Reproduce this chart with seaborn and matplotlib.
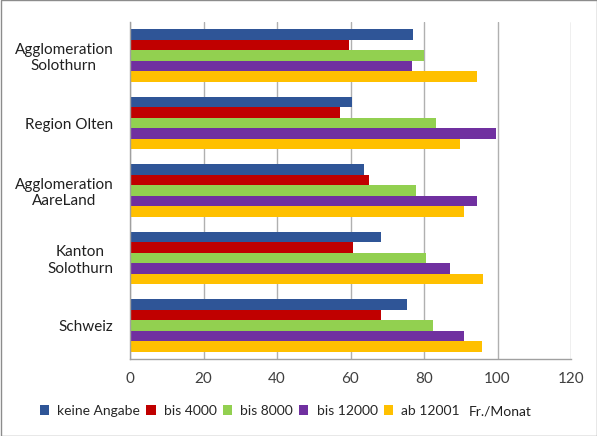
import matplotlib
matplotlib.use("Agg")
import matplotlib.pyplot as plt
import seaborn as sns
import pandas as pd
from matplotlib.patches import Rectangle

regions = ["Agglomeration\nSolothurn", "Region Olten", "Agglomeration\nAareLand",
           "Kanton\nSolothurn", "Schweiz"]
series = ["keine Angabe", "bis 4000", "bis 8000", "bis 12000", "ab 12001"]
unit_label = "Fr./Monat"
keine_angabe = [77.0, 60.4, 63.8, 68.2, 75.4]
bis_4000 = [59.6, 57.1, 64.9, 60.8, 68.2]
bis_8000 = [79.9, 83.3, 77.9, 80.5, 82.5]
bis_12000 = [76.8, 99.7, 94.4, 87.1, 90.8]
ab_12001 = [94.4, 89.9, 91.0, 96.0, 95.7]
colors = ["#2F5597", "#C00000", "#92D050", "#7030A0", "#FFC000"]
xticks = [0, 20, 40, 60, 80, 100, 120]

values = [keine_angabe, bis_4000, bis_8000, bis_12000, ab_12001]
rows = []
for s, vals in zip(series, values):
    for r, v in zip(regions, vals):
        rows.append({"Region": r, "Serie": s, "Wert": v})
df = pd.DataFrame(rows)

sns.set_style("white")
plt.rcParams["font.family"] = ["Lato", "DejaVu Sans"]

fig = plt.figure(figsize=(5.97, 4.36), dpi=100)
ax = fig.add_axes([130/597, 77/436, 441/597, 337/436])

sns.barplot(data=df, y="Region", x="Wert", hue="Serie", order=regions,
            hue_order=series, palette=colors, orient="h", width=0.78,
            saturation=1, ax=ax, legend=True, edgecolor="none")

ax.set_xlim(0, 120)
ax.set_ylim(len(regions) - 0.5, -0.5)
ax.set_xticks(xticks)
ax.set_xticklabels([str(t) for t in xticks], fontsize=11, color="#404040")
ax.set_xlabel("")
ax.set_ylabel("")
ax.set_yticks(range(len(regions)))
ax.set_yticklabels(regions, fontsize=11, color="#202020", multialignment="center")
ax.tick_params(axis="y", length=0, pad=12)
ax.set_yticks([i + 0.5 for i in range(-1, len(regions))], minor=True)
ax.tick_params(axis="y", which="minor", length=5, color="#A0A0A0", direction="out")
ax.tick_params(axis="x", length=4, color="#A0A0A0", direction="out", pad=5)

ax.grid(axis="x", color="#B0B0B0", linewidth=1)
ax.set_axisbelow(True)
for side in ["top", "right"]:
    ax.spines[side].set_visible(False)
for side in ["left", "bottom"]:
    ax.spines[side].set_color("#A0A0A0")
    ax.spines[side].set_linewidth(1)

leg = ax.get_legend()
handles, labels = ax.get_legend_handles_labels()
leg.remove()
flg = fig.legend(handles, labels, loc="center left", bbox_to_anchor=(40/597, 25/436), ncol=5,
                 frameon=False, fontsize=10, handlelength=0.65, handleheight=0.65,
                 handletextpad=0.6, columnspacing=0.45, borderpad=0, borderaxespad=0)
fig.canvas.draw()
bb = flg.get_window_extent(fig.canvas.get_renderer())
fig.text((bb.x1 + 9) / 597, 25/436, unit_label, fontsize=10, va="center", ha="left",
         color="#202020")

fig.patches.append(Rectangle((0.5/597, 0.5/436), 1 - 1/597, 1 - 1/436,
                             transform=fig.transFigure, fill=False,
                             edgecolor="#8C8C8C", linewidth=1))

fig.savefig("out.png", dpi=100)
